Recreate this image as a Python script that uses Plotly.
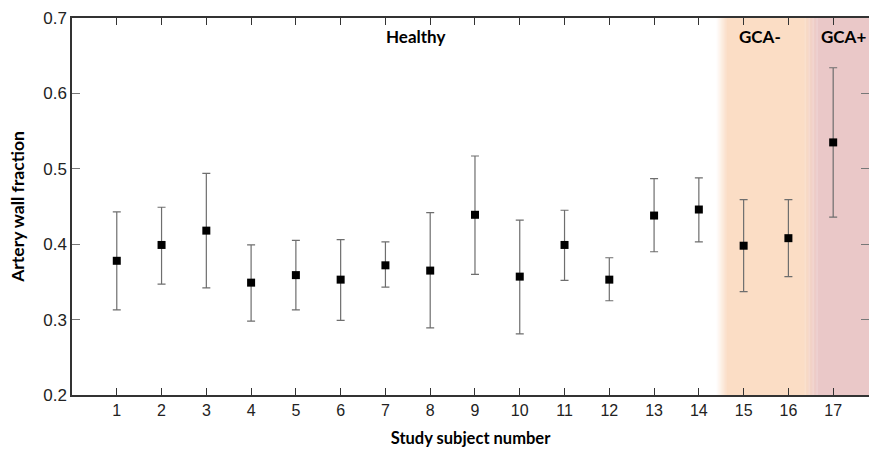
import plotly.graph_objects as go

subjects = list(range(1, 18))
awf_mean = [0.378, 0.399, 0.418, 0.349, 0.359, 0.353, 0.372, 0.365, 0.439,
            0.357, 0.399, 0.353, 0.438, 0.446, 0.398, 0.408, 0.535]
awf_upper = [0.443, 0.449, 0.494, 0.399, 0.405, 0.406, 0.403, 0.442, 0.517,
             0.432, 0.445, 0.382, 0.487, 0.488, 0.459, 0.459, 0.634]
awf_lower = [0.313, 0.347, 0.342, 0.298, 0.313, 0.299, 0.343, 0.289, 0.360,
             0.281, 0.352, 0.325, 0.390, 0.403, 0.337, 0.357, 0.436]
x_ticks = list(range(1, 18))
y_ticks = [0.2, 0.3, 0.4, 0.5, 0.6, 0.7]
groups = ["Healthy", "GCA-", "GCA+"]
group_label_x = [7.68, 15.36, 17.22]
group_bounds = [14.5, 16.5]

X_MAX = 17.8
Y_MIN, Y_MAX = 0.2, 0.7

err_plus = [u - m for u, m in zip(awf_upper, awf_mean)]
err_minus = [m - l for m, l in zip(awf_mean, awf_lower)]

fig = go.Figure()
fig.add_trace(go.Scatter(
    x=subjects, y=awf_mean, mode="markers",
    marker=dict(symbol="square", size=8, color="black"),
    error_y=dict(type="data", symmetric=False, array=err_plus, arrayminus=err_minus,
                 color="#6e6e6e", thickness=1.2, width=4),
    showlegend=False, hoverinfo="skip",
))
# invisible trace for right mirrored ticks
fig.add_trace(go.Scatter(x=[None], y=[None], yaxis="y2", showlegend=False))

peach = (251, 221, 197)
pink = (234, 200, 200)
white = (255, 255, 255)

def mix(c1, c2, t):
    return "rgb(%d,%d,%d)" % tuple(round(a + (b - a) * t) for a, b in zip(c1, c2))

shapes = []
n = 10
w0 = 0.22
start = group_bounds[0] - w0 / 2
for i in range(n):
    x0 = start + w0 * i / n
    x1 = start + w0 * (i + 1) / n
    shapes.append(dict(type="rect", xref="x", yref="y", x0=x0, x1=x1 + 0.005,
                       y0=Y_MIN, y1=Y_MAX, fillcolor=mix(white, peach, (i + 0.5) / n),
                       line=dict(width=0), layer="below"))
shapes.append(dict(type="rect", xref="x", yref="y", x0=start + w0, x1=group_bounds[1] - 0.15,
                   y0=Y_MIN, y1=Y_MAX, fillcolor=mix(peach, peach, 0),
                   line=dict(width=0), layer="below"))
w1 = 0.3
start2 = group_bounds[1] - 0.15
for i in range(n):
    x0 = start2 + w1 * i / n
    x1 = start2 + w1 * (i + 1) / n
    shapes.append(dict(type="rect", xref="x", yref="y", x0=x0, x1=x1 + 0.005,
                       y0=Y_MIN, y1=Y_MAX, fillcolor=mix(peach, pink, (i + 0.5) / n),
                       line=dict(width=0), layer="below"))
shapes.append(dict(type="rect", xref="x", yref="y", x0=start2 + w1, x1=X_MAX,
                   y0=Y_MIN, y1=Y_MAX, fillcolor=mix(pink, pink, 0),
                   line=dict(width=0), layer="below"))

annotations = []
for g, gx in zip(groups, group_label_x):
    annotations.append(dict(x=gx, y=0.675, xref="x", yref="y", text="<b>%s</b>" % g,
                            showarrow=False, font=dict(family="Lato", size=17, color="black"),
                            xanchor="center", yanchor="middle"))

tick_family = "Arial, 'Liberation Sans', sans-serif"

fig.update_layout(
    width=869, height=451,
    margin=dict(l=72, r=0, t=18, b=56),
    paper_bgcolor="white", plot_bgcolor="white",
    shapes=shapes, annotations=annotations,
    font=dict(family=tick_family, size=16, color="#222"),
    xaxis=dict(range=[0, X_MAX], tickmode="array", tickvals=x_ticks,
               ticks="inside", ticklen=7, tickcolor="#333", tickwidth=1.3,
               showline=True, linecolor="#333", linewidth=1.5, mirror="ticks",
               showgrid=False, zeroline=False, automargin=False,
               tickfont=dict(family=tick_family, size=16, color="#222"),
               title=dict(text="<b>Study subject number</b>",
                          font=dict(family="Lato", size=16.5, color="black"), standoff=14)),
    yaxis=dict(range=[Y_MIN, Y_MAX], tickmode="array", tickvals=y_ticks,
               tickformat=".1f",
               ticks="inside", ticklen=8, tickcolor="#777", tickwidth=1.3,
               showline=True, linecolor="#333", linewidth=1.5,
               showgrid=False, zeroline=False, automargin=False,
               tickfont=dict(family=tick_family, size=17, color="#222"),
               title=dict(text="<b>Artery wall fraction</b>",
                          font=dict(family="Lato", size=17.5, color="black"), standoff=14)),
    yaxis2=dict(range=[Y_MIN, Y_MAX], tickmode="array", tickvals=y_ticks,
                overlaying="y", side="right", ticks="inside", ticklen=8,
                tickcolor="#777", tickwidth=1.3, showticklabels=False,
                showline=False, showgrid=False, zeroline=False, automargin=False),
)

fig.write_html("out.html", config={"displayModeBar": False},
               post_script="document.body.style.margin='0';document.body.style.padding='0';document.body.style.overflow='hidden';")
